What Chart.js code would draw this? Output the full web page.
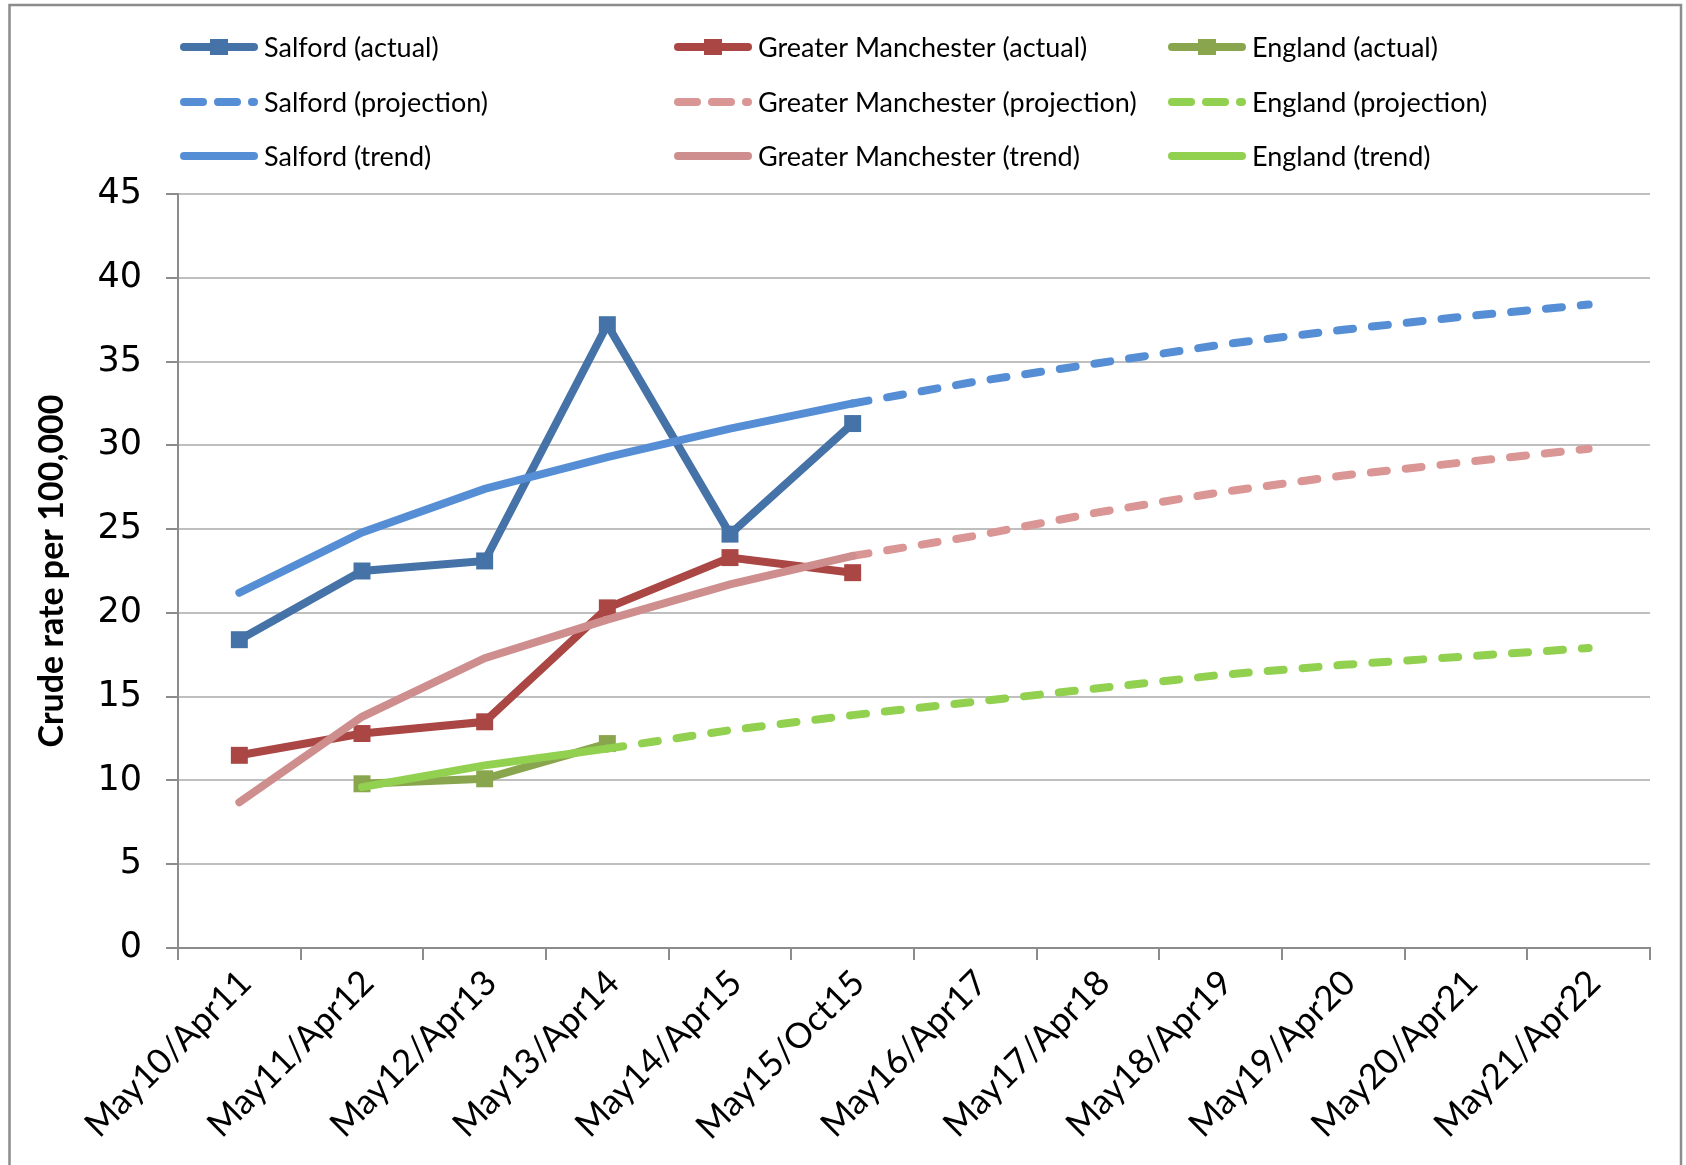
<!DOCTYPE html>
<html>
<head>
<meta charset="utf-8">
<script src="https://cdn.jsdelivr.net/npm/chart.js@4/dist/chart.umd.min.js"></script>
<style>
  html, body { margin: 0; padding: 0; background: #ffffff; }
  canvas { display: block; }
</style>
</head>
<body>
<canvas id="chart" width="1686" height="1165"></canvas>
<script>
// Reporting periods along the x axis
const categories = [
  'May10/Apr11', 'May11/Apr12', 'May12/Apr13', 'May13/Apr14', 'May14/Apr15', 'May15/Oct15',
  'May16/Apr17', 'May17/Apr18', 'May18/Apr19', 'May19/Apr20', 'May20/Apr21', 'May21/Apr22'
];

// Crude rate per 100,000
const salfordActual     = [18.4, 22.5, 23.1, 37.2, 24.7, 31.3, null, null, null, null, null, null];
const gmActual          = [11.5, 12.8, 13.5, 20.3, 23.3, 22.4, null, null, null, null, null, null];
const englandActual     = [null, 9.8, 10.1, 12.2, null, null, null, null, null, null, null, null];

const salfordProjection = [null, null, null, null, null, 32.5, 33.8, 34.9, 36.0, 36.9, 37.7, 38.4];
const gmProjection      = [null, null, null, null, null, 23.4, 24.6, 26.0, 27.2, 28.2, 29.0, 29.8];
const englandProjection = [null, null, null, 11.9, 13.0, 13.9, 14.7, 15.5, 16.3, 16.9, 17.4, 17.9];

const salfordTrend      = [21.2, 24.8, 27.4, 29.3, 31.0, 32.5, null, null, null, null, null, null];
const gmTrend           = [8.7, 13.8, 17.3, 19.6, 21.7, 23.4, null, null, null, null, null, null];
const englandTrend      = [null, 9.6, 10.9, 11.9, null, null, null, null, null, null, null, null];

const yTicks = [0, 5, 10, 15, 20, 25, 30, 35, 40, 45];

const LINE_W = 8;
const DASH = [16, 19];

function actualSeries(label, data, color) {
  return {
    label, data,
    borderColor: color, backgroundColor: color,
    borderWidth: LINE_W, pointStyle: 'rect', pointRadius: 12, pointBorderWidth: 0,
    pointBackgroundColor: color, tension: 0, order: 3
  };
}
function projectionSeries(label, data, color) {
  return {
    label, data,
    borderColor: color, backgroundColor: color,
    borderWidth: LINE_W, borderDash: DASH, borderCapStyle: 'round',
    pointRadius: 0, tension: 0, order: 2
  };
}
function trendSeries(label, data, color) {
  return {
    label, data,
    borderColor: color, backgroundColor: color,
    borderWidth: LINE_W, borderCapStyle: 'round',
    pointRadius: 0, tension: 0, order: 1
  };
}

const datasets = [
  actualSeries('Salford (actual)', salfordActual, '#4572A7'),
  actualSeries('Greater Manchester (actual)', gmActual, '#AA4643'),
  actualSeries('England (actual)', englandActual, '#89A54E'),
  projectionSeries('Salford (projection)', salfordProjection, '#558ED5'),
  projectionSeries('Greater Manchester (projection)', gmProjection, '#DA9694'),
  projectionSeries('England (projection)', englandProjection, '#92D050'),
  trendSeries('Salford (trend)', salfordTrend, '#558ED5'),
  trendSeries('Greater Manchester (trend)', gmTrend, '#CF8E8E'),
  trendSeries('England (trend)', englandTrend, '#92D050')
];

// Outer frame around the whole chart
const framePlugin = {
  id: 'frame',
  afterDraw(chart) {
    const ctx = chart.ctx;
    ctx.save();
    ctx.strokeStyle = '#8C8C8C';
    ctx.lineWidth = 2.5;
    ctx.strokeRect(9.5, 5, 1671.5, 1400);
    ctx.restore();
  }
};

// Three-column legend above the plot
const gridLegendPlugin = {
  id: 'gridLegend',
  afterDraw(chart) {
    const ctx = chart.ctx;
    const colX = [180, 674, 1168];
    const rowY = [47, 102, 156];
    const sampleLen = 78;
    ctx.save();
    chart.data.datasets.forEach((ds, i) => {
      const x0 = colX[i % 3];
      const y = rowY[Math.floor(i / 3)];
      ctx.strokeStyle = ds.borderColor;
      ctx.lineWidth = ds.borderWidth;
      ctx.lineCap = 'round';
      ctx.setLineDash(ds.borderDash ? [19, 15] : []);
      ctx.beginPath();
      ctx.moveTo(x0 + 4, y);
      ctx.lineTo(x0 + sampleLen - 4, y);
      ctx.stroke();
      ctx.setLineDash([]);
      if (ds.pointStyle === 'rect') {
        ctx.fillStyle = ds.pointBackgroundColor;
        ctx.fillRect(x0 + sampleLen / 2 - 9, y - 8, 18, 16);
      }
      ctx.fillStyle = '#000000';
      ctx.font = '27px Lato';
      ctx.textAlign = 'left';
      ctx.textBaseline = 'middle';
      ctx.fillText(ds.label, x0 + sampleLen + 6, y + 1);
    });
    ctx.restore();
  }
};

new Chart(document.getElementById('chart'), {
  type: 'line',
  data: { labels: categories, datasets },
  plugins: [framePlugin, gridLegendPlugin],
  options: {
    responsive: false,
    animation: false,
    events: [],
    layout: { padding: { top: 194, right: 36, bottom: 0, left: 0 } },
    plugins: { legend: { display: false }, tooltip: { enabled: false } },
    scales: {
      x: {
        offset: true,
        grid: {
          offset: true, drawOnChartArea: false, drawTicks: true,
          tickLength: 12, tickColor: '#8C8C8C', lineWidth: 2
        },
        border: { color: '#8C8C8C', width: 2 },
        ticks: {
          autoSkip: false, minRotation: 45, maxRotation: 45,
          padding: 2, labelOffset: 6, color: '#000000',
          font: { family: 'Lato', size: 35 }
        },
        afterFit(scale) { scale.height = 217; }
      },
      y: {
        min: 0, max: 45,
        afterBuildTicks(scale) { scale.ticks = yTicks.map(v => ({ value: v })); },
        grid: {
          color: '#BFBFBF', lineWidth: 2, drawTicks: true,
          tickLength: 12, tickColor: '#8C8C8C'
        },
        border: { color: '#8C8C8C', width: 2 },
        ticks: {
          padding: 24, color: '#000000',
          font: { family: 'DejaVu Sans', size: 35 }
        },
        title: {
          display: true, text: 'Crude rate per 100,000', color: '#000000',
          font: { family: 'Lato', size: 34, weight: 'bold' },
          padding: { top: 32, bottom: 0 }
        },
        afterFit(scale) { scale.width = 178; }
      }
    }
  }
});
</script>
</body>
</html>
